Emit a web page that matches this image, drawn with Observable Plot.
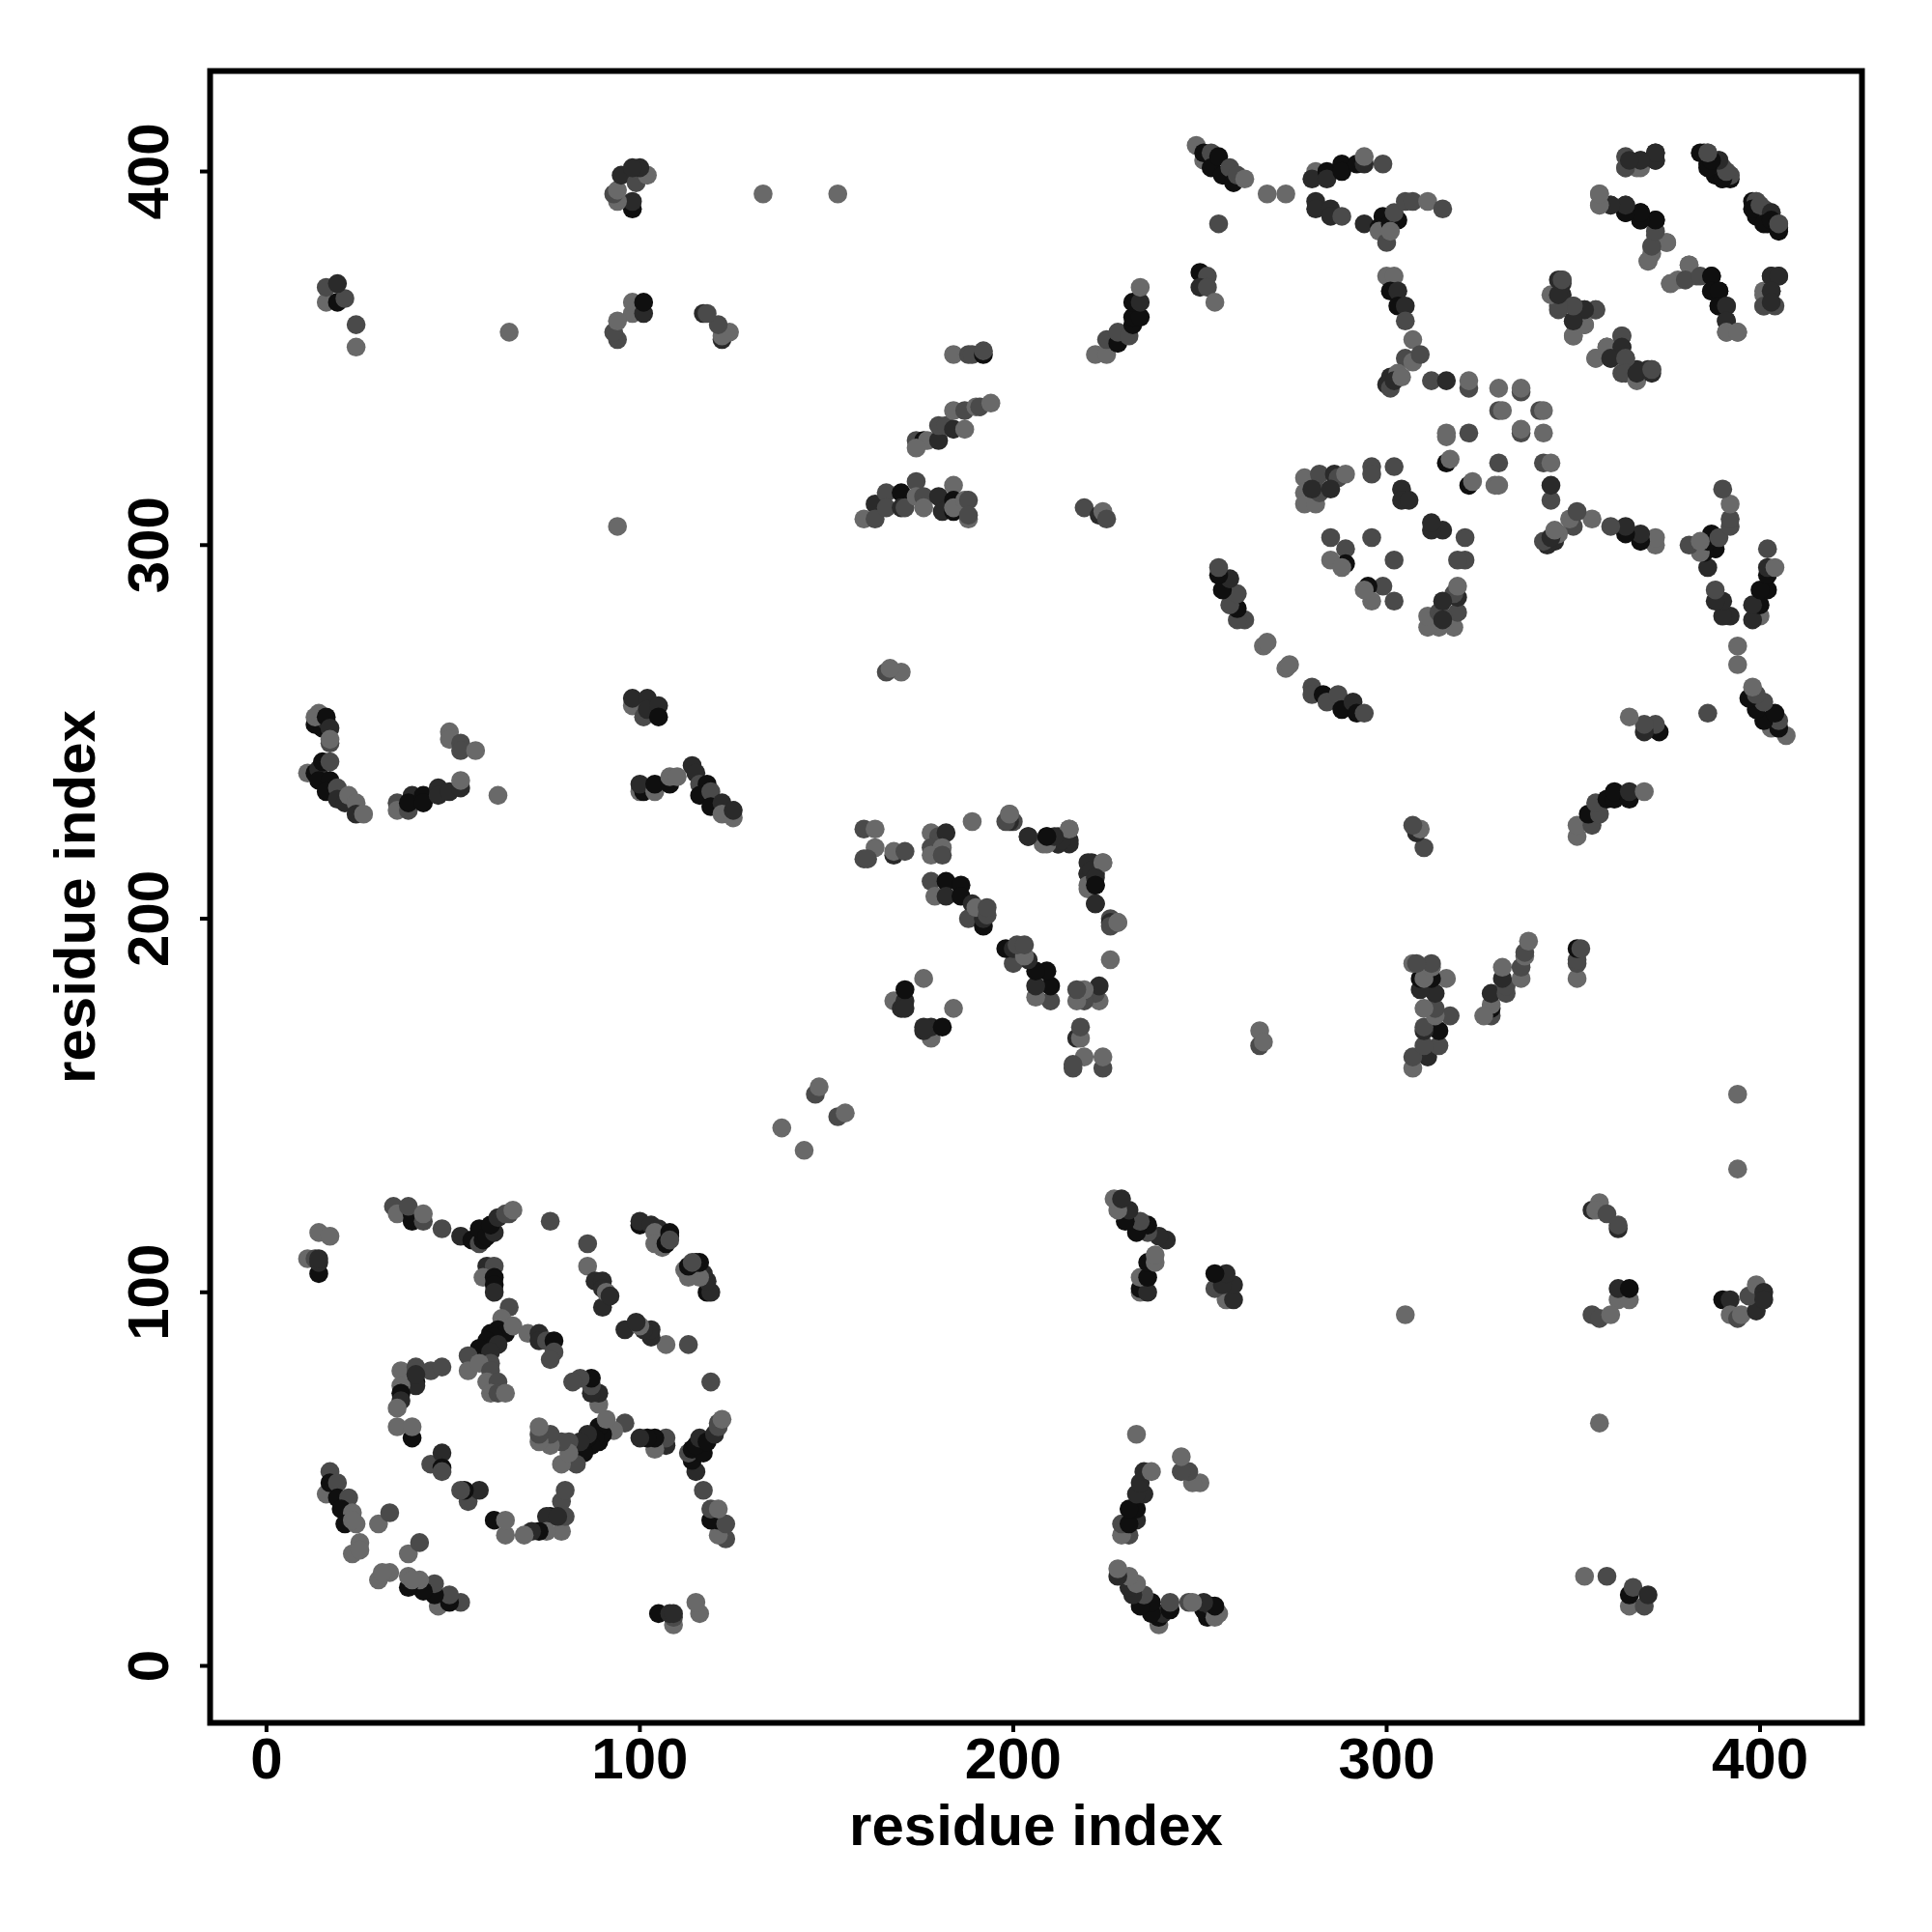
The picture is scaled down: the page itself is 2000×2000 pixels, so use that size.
<!DOCTYPE html>
<html>
<head>
<meta charset="utf-8">
<script src="https://cdn.jsdelivr.net/npm/d3@7"></script>
<script src="https://cdn.jsdelivr.net/npm/@observablehq/plot@0.6"></script>
<style>
html,body{margin:0;padding:0;background:#fff}
svg{display:block}
</style>
</head>
<body>
<div id="chart"></div>
<script>
// Contacts: [residue i, residue j, strength level 0-3].
// Each contact is drawn at (i,j) and at (j,i).
const contactsNTerminal = [
[14,116,0],[17,115,0],[11,109,0],[13,109,1],[14,105,3],[14,108,2],[14,109,2],
[17,52,1],[16,46,0],[17,49,3],[19,49,1],[19,45,3],[22,45,1],[20,42,3],[23,41,0],[21,38,3],[24,38,0],[23,39,0],
[25,33,0],[23,30,0],[25,31,0],[30,38,0],[33,41,1],
[35,122,2],[34,123,1],[35,121,0],[39,121,3],[39,119,3],[38,123,1],[42,119,1],[42,121,0],[47,117,1],[52,115,2],
[55,114,3],[57,113,1],[58,114,3],[57,117,3],[59,115,3],[61,116,2],[60,118,3],[62,120,2],[65,121,1],[64,121,1],[66,122,0],
[76,119,1],[86,113,1],[86,107,0],[88,103,2],[90,103,2],[90,101,2],[90,96,2],[91,100,0],[92,99,2],
[100,118,3],[100,119,2],[103,118,2],[105,117,2],[104,116,0],[104,113,0],[106,112,0],[107,113,3],[108,116,3],[108,115,3],[108,114,1],
[59,107,2],[61,107,1],[58,104,0],[61,104,3],[61,102,3],[61,100,2],[65,96,1],[63,93,0],
[60,89,3],[62,90,3],[64,89,3],[61,88,3],[59,87,3],[61,86,3],[57,85,3],[62,86,2],[60,84,2],[66,91,0],
[54,83,1],[54,79,0],[60,81,1],[57,81,0],[60,79,1],[59,76,0],[62,76,1],[60,73,0],[62,73,1],[64,73,0],
[70,89,0],[73,89,2],[73,87,2],[75,87,1],[77,87,3],[77,84,1],[76,82,1],
[40,76,3],[40,75,2],[36,79,0],[40,80,1],[44,79,1],[47,80,1],[36,75,0],[36,73,3],[36,71,2],[35,69,0],[39,61,3],[35,64,0],[39,64,0],
[44,54,1],[47,57,2],[47,53,3],[47,52,1],[40,78,2]
];
const contactsNtoMiddle = [
[138,144,0],[147,153,1],[148,155,0],
[13,252,3],[15,251,3],[16,253,2],[13,254,0],[14,255,0],[16,254,3],[17,251,2],[17,247,1],[17,248,0],
[11,239,0],[13,239,3],[14,240,2],[15,242,3],[17,242,1],[14,237,3],[17,237,3],[16,234,3],[19,235,1],[19,232,2],[21,231,2],[22,233,0],[24,231,0],[24,228,2],[26,228,0],
[35,231,1],[35,229,0],[38,229,1],[39,233,2],[38,231,3],[42,233,3],[42,231,3],[46,235,2],[46,233,2],[49,234,2],[52,235,2],[52,237,0],
[49,250,0],[49,248,0],[52,247,1],[52,245,1],[56,245,0],[62,233,0],
[98,257,0],[98,259,2],[102,259,2],[101,254,1],[102,256,2],[105,257,2],[105,254,3],
[100,234,0],[101,234,3],[100,236,2],[104,234,0],[104,236,3],[108,236,3],[108,238,0],[110,238,0],
[114,241,2],[115,239,2],[116,236,1],[118,236,3],[116,233,3],[119,234,1],[119,230,3],[122,231,2],[122,228,0],[125,227,0],[125,229,2],
[24,353,0],[24,359,1],[16,365,0],[16,369,1],[19,365,3],[21,366,1],[19,370,2],[65,357,0],
[122,355,2],[124,357,0],[122,356,0],[121,359,1],[117,362,2],[118,362,1],
[98,362,0],[98,365,0],[101,362,2],[101,365,3],[94,355,1],[93,357,1],[94,360,0],
[98,390,3],[98,392,2],[94,392,0],[93,394,1],[94,395,0],[95,399,2],[99,397,1],[102,399,0],[100,401,2],[98,401,2],
[94,305,0],[133,394,0],[153,394,0]
];
const contactsMiddle = [
[160,224,1],[163,224,0],[163,219,0],[160,216,1],[161,216,1],[168,217,2],[168,218,0],[171,218,1],
[178,223,0],[180,222,1],[182,223,2],[178,219,1],[181,219,0],[178,217,0],[181,217,1],
[189,226,0],[200,226,1],[199,228,0],[204,222,2],[208,220,0],[209,222,3],[212,222,2],[212,220,2],[215,221,2],[215,224,0],
[220,215,2],[220,212,2],[221,213,2],[224,215,0],[220,209,0],[222,211,2],[222,209,3],[222,204,2],[226,199,2],[226,198,1],[228,199,0],
[178,210,1],[179,206,0],[182,210,3],[182,206,2],[186,209,3],[186,206,3],[189,204,2],[188,200,1],[192,198,3],[192,200,2],[190,203,0],[193,201,1],[193,203,1],
[168,178,0],[171,178,2],[170,176,2],[171,176,2],[171,181,3],[176,184,0],
[170,266,0],[166,266,1],[167,267,0]
];
const contactsMiddleToC = [
[174,328,1],[176,328,3],[177,328,0],[174,326,0],[180,328,2],[180,332,1],[182,332,1],[184,331,2],[187,331,0],
[184,336,0],[187,336,1],[190,337,0],[191,337,1],[194,338,0],
[184,351,0],[188,351,1],[189,351,1],[192,351,3],[192,352,1],
[163,311,2],[160,307,0],[163,307,1],[166,314,1],[166,310,1],[170,314,3],[170,310,2],[171,310,1],[174,317,1],[174,313,0],[176,313,1],[176,310,0],
[180,313,2],[181,309,2],[184,316,0],[184,312,3],[184,309,3],[184,310,0],[187,312,0],[188,312,1],[188,307,0],[188,308,1],
[219,310,1],[223,308,2],[224,309,0],[225,307,1],
[222,351,0],[225,351,0],[225,355,1],[228,354,3],[228,357,1],[231,356,1],[232,359,3],[232,361,3],[234,361,3],[232,365,3],[234,365,2],[234,369,0],
[250,373,3],[252,372,1],[250,369,2],[252,369,1],[254,365,0],[255,386,1],
[249,407,0],[251,403,0],[251,405,3],[253,405,1],[253,401,3],[255,404,3],[256,399,3],[258,401,1],[259,397,3],[260,399,1],[262,398,0],
[262,280,1],[260,280,1],[260,283,3],[258,284,1],[260,287,1],[256,288,3],[258,291,2],[255,292,3],[255,294,1],
[267,273,0],[268,274,0],[268,394,0],[273,394,0]
];
const contactsCTerminal = [
[281,400,0],[280,398,2],[284,400,3],[284,398,2],[288,402,3],[288,400,3],[292,402,3],[294,402,2],[294,404,0],[299,402,1],
[281,392,2],[281,390,2],[285,390,2],[285,388,2],[288,388,1],[294,386,2],
[299,388,3],[298,385,3],[298,384,0],[301,386,3],[303,387,3],[300,381,1],[301,384,0],[302,389,1],[305,392,1],[307,392,1],[311,392,0],[315,390,1],
[300,372,0],[302,372,0],[301,368,3],[303,368,2],[303,364,3],[305,364,2],[305,360,1],
[307,355,0],[305,350,1],[307,349,0],[309,351,1],[301,345,2],[303,346,0],[300,343,2],[301,342,1],[302,344,2],[304,345,0],
[312,344,1],[316,344,2],[322,342,1],[322,344,0],
[330,342,0],[336,341,1],[336,342,0],[330,336,1],[331,336,0],[316,329,0],[316,330,0],[322,330,1],[316,322,3],[317,323,0],
[278,318,0],[282,319,1],[286,319,2],[287,318,1],[289,319,0],[278,314,0],[278,311,0],[281,311,0],[282,314,1],[281,315,1],[280,315,2],[285,315,2],
[296,321,1],[296,319,1],[302,321,1],[304,315,2],[304,312,2],[306,312,2],
[285,302,1],[296,302,1],[289,299,1],[289,295,3],[285,296,0],[288,294,0],
[364,404,1],[364,401,0],[368,401,0],[366,402,2],[368,403,2],[372,405,2],[372,403,2],
[385,405,3],[386,405,1],[386,402,3],[389,403,1],[388,399,3],[392,398,3],[390,401,1],[392,399,0],
[399,392,1],[398,390,3],[400,391,1],[403,389,2],[401,386,3],[403,387,3],[405,384,3],[405,386,1],
[357,394,0],[357,391,0],[360,391,2],[364,391,2],[364,389,3],[368,389,3],[368,387,1],[372,387,3],[372,383,1],[371,380,0],[375,381,0],[371,378,0],[370,376,0],
[381,375,0],[376,370,0],[380,371,1],[384,372,1],[387,372,3],[387,368,3],[389,368,3],[389,364,3],[391,364,2],[391,360,2],[391,357,0],[394,357,0],
[403,372,2],[405,372,2],[401,367,0],[403,368,2],[401,364,1],[403,365,2],
[347,371,1],[345,367,0],[347,370,2],[347,367,2],[346,363,1],[350,364,1],[353,363,2],[356,363,1],[350,360,2],[353,359,1],[350,356,0],
[359,353,0],[356,350,0],[363,356,1],[363,353,2],[360,350,2],[364,350,1],[364,346,1],[367,344,0],[367,346,2],[371,346,2],[371,347,1]
];
const tickValues = [0, 100, 200, 300, 400];
const axisTitle = "residue index";
const levelColors = ["#696969", "#4a4a4a", "#2a2a2a", "#0f0f0f"];

const contacts = [contactsNTerminal, contactsNtoMiddle, contactsMiddle, contactsMiddleToC, contactsCTerminal].flat();
const points = contacts.flatMap(([i, j, level]) => [
  {x: i, y: j, level},
  {x: j, y: i, level}
]);

const font = {fontFamily: "'Liberation Sans', Arial, sans-serif", fontWeight: "bold", fontSize: 60};

const chart = Plot.plot({
  width: 2000,
  height: 2000,
  marginLeft: 217,
  marginRight: 73,
  marginTop: 73,
  marginBottom: 217,
  style: {background: "#fff", color: "#000"},
  x: {domain: [-15.1, 427.3]},
  y: {domain: [-15.25, 426.9]},
  color: {type: "identity"},
  marks: [
    Plot.dot(points, {
      x: "x", y: "y", r: 9.8,
      fill: d => levelColors[d.level],
      stroke: "none"
    }),
    Plot.frame({stroke: "#000", strokeWidth: 6, strokeOpacity: 1}),
    Plot.axisX({
      ticks: tickValues, tickSize: 10, tickPadding: 5, strokeWidth: 4,
      label: axisTitle, labelAnchor: "center", labelArrow: "none", labelOffset: 126,
      ...font
    }),
    Plot.axisY({
      ticks: tickValues, tickSize: 10, tickPadding: 34, strokeWidth: 4, tickRotate: -90,
      label: axisTitle, labelAnchor: "center", labelArrow: "none", labelOffset: 162,
      textAnchor: "middle",
      ...font
    })
  ]
});
document.getElementById("chart").appendChild(chart);
</script>
</body>
</html>
